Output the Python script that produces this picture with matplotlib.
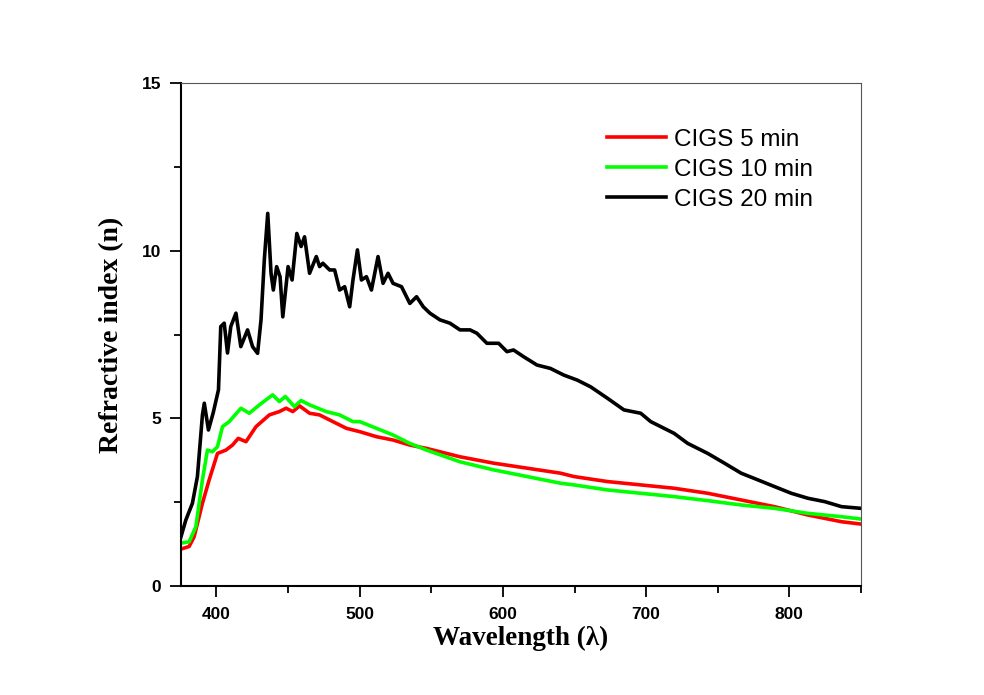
import matplotlib
matplotlib.use("Agg")
import matplotlib.pyplot as plt
from matplotlib.ticker import MultipleLocator

wl_5 = [375, 380.9, 384.4, 390.2, 394.9, 400.7, 406.6, 411.2, 415.2, 420.6, 427.6, 436.9,
        443.9, 448.6, 453.3, 458, 465, 472, 481.3, 490.7, 500, 511.7, 523.3, 535, 546.7,
        570, 593.4, 616.8, 640.2, 649.5, 672.9, 696.2, 719.5, 743, 766.3, 789.6, 813,
        836.4, 850]
n_5 = [1.09, 1.17, 1.46, 2.46, 3.16, 3.95, 4.05, 4.20, 4.40, 4.30, 4.75, 5.10,
       5.20, 5.30, 5.20, 5.37, 5.15, 5.10, 4.90, 4.70, 4.60, 4.45, 4.35, 4.20, 4.10,
       3.85, 3.66, 3.51, 3.36, 3.26, 3.11, 3.01, 2.91, 2.76, 2.56, 2.36, 2.11,
       1.91, 1.84]

wl_10 = [375, 380.9, 385.6, 390.2, 393.7, 397.2, 400.7, 404.2, 408.9, 417.1, 422.9, 430,
         439.2, 443.9, 448.1, 454.4, 459.1, 465, 476.6, 486, 495.3, 500, 511.7, 523.3,
         535, 546.7, 570, 593.4, 616.8, 640.2, 649.5, 672.9, 696.2, 719.5, 743, 766.3,
         789.6, 813, 836.4, 850]
n_10 = [1.27, 1.31, 1.76, 3.16, 4.05, 4.00, 4.15, 4.75, 4.90, 5.30, 5.15, 5.40,
        5.70, 5.50, 5.65, 5.35, 5.53, 5.40, 5.20, 5.10, 4.90, 4.90, 4.70, 4.50,
        4.25, 4.05, 3.70, 3.46, 3.26, 3.06, 3.01, 2.86, 2.76, 2.66, 2.54, 2.41,
        2.31, 2.16, 2.06, 1.99]

wl_20 = [374.6, 378.6, 383.2, 386.7, 390.2, 391.5, 394.4, 397.7, 401.4, 403, 405.4, 407.7,
         410, 413.6, 417, 421.7, 425.2, 428.7, 431.1, 433.4, 435.8, 438.1, 439.7, 442,
         444.4, 446.3, 450, 452.8, 456.1, 459.1, 461.5, 465, 469.7, 472, 474.3, 479,
         482.5, 486, 489.5, 493, 495.3, 498.4, 501.2, 504.7, 508.2, 512.8, 516.3, 519.8,
         523.3, 529.2, 535, 539.7, 544.4, 549, 556, 563, 570, 577, 581.8, 588.8, 597,
         602.8, 607.4, 614.4, 623.8, 633.1, 642.5, 651.9, 661.2, 672.9, 684.5, 696.2,
         703.2, 719.5, 729, 743, 754.6, 766.3, 778, 789.6, 801.3, 813, 824.7, 836.4, 850]
n_20 = [1.37, 1.96, 2.46, 3.26, 5.10, 5.45, 4.65, 5.16, 5.85, 7.74, 7.84, 6.95,
        7.74, 8.14, 7.14, 7.64, 7.14, 6.94, 7.94, 9.73, 11.12, 9.33, 8.83, 9.53,
        9.23, 8.03, 9.53, 9.13, 10.52, 10.13, 10.42, 9.33, 9.83, 9.53, 9.63, 9.43,
        9.43, 8.83, 8.93, 8.33, 9.13, 10.03, 9.13, 9.23, 8.83, 9.83, 9.03, 9.33,
        9.03, 8.93, 8.43, 8.63, 8.33, 8.14, 7.94, 7.84, 7.64, 7.64, 7.54, 7.24, 7.24,
        6.99, 7.04, 6.84, 6.59, 6.49, 6.29, 6.14, 5.94, 5.60, 5.25, 5.15,
        4.90, 4.55, 4.25, 3.95, 3.66, 3.36, 3.16, 2.96, 2.76, 2.61, 2.51, 2.36, 2.31]

labels = ["CIGS 5 min", "CIGS 10 min", "CIGS 20 min"]
colors = ["#ff0000", "#00ff00", "#000000"]

fig = plt.figure(figsize=(9.84, 6.95), dpi=100)
ax = fig.add_axes([0.1836, 0.1573, 0.6914, 0.7226])

ax.plot(wl_5, n_5, color=colors[0], lw=2.6, label=labels[0])
ax.plot(wl_10, n_10, color=colors[1], lw=2.6, label=labels[1])
ax.plot(wl_20, n_20, color=colors[2], lw=2.6, label=labels[2])

ax.set_xlim(375, 850)
ax.set_ylim(0, 15)
ax.xaxis.set_major_locator(MultipleLocator(100))
ax.xaxis.set_minor_locator(MultipleLocator(50))
ax.yaxis.set_major_locator(MultipleLocator(5))
ax.yaxis.set_minor_locator(MultipleLocator(2.5))
ax.tick_params(which='major', direction='out', length=8, width=1.3, top=False, right=False)
ax.tick_params(which='minor', direction='out', length=5, width=1.3, top=False, right=False)
for lab in ax.get_xticklabels() + ax.get_yticklabels():
    lab.set_fontfamily('Liberation Sans')
    lab.set_fontweight('bold')
    lab.set_fontsize(12.5)
ax.tick_params(axis='x', pad=7)
ax.tick_params(axis='y', pad=6)

for s in ['left', 'bottom']:
    ax.spines[s].set_linewidth(1.5)
for s in ['top', 'right']:
    ax.spines[s].set_linewidth(0.8)
    ax.spines[s].set_color('#555555')

ax.set_xlabel("Wavelength (λ)", fontfamily='Liberation Serif', fontweight='bold',
              fontsize=19.5, labelpad=3)
ax.set_ylabel("Refractive index (n)", fontfamily='Liberation Serif', fontweight='bold',
              fontsize=20, labelpad=13)

ax.legend(loc='upper left', bbox_to_anchor=(0.612, 0.929), frameon=False,
          prop={'family': 'Liberation Sans', 'size': 17.5}, handlelength=2.45,
          handletextpad=0.3, labelspacing=0.33, borderaxespad=0)

fig.savefig("out.png", dpi=100)
